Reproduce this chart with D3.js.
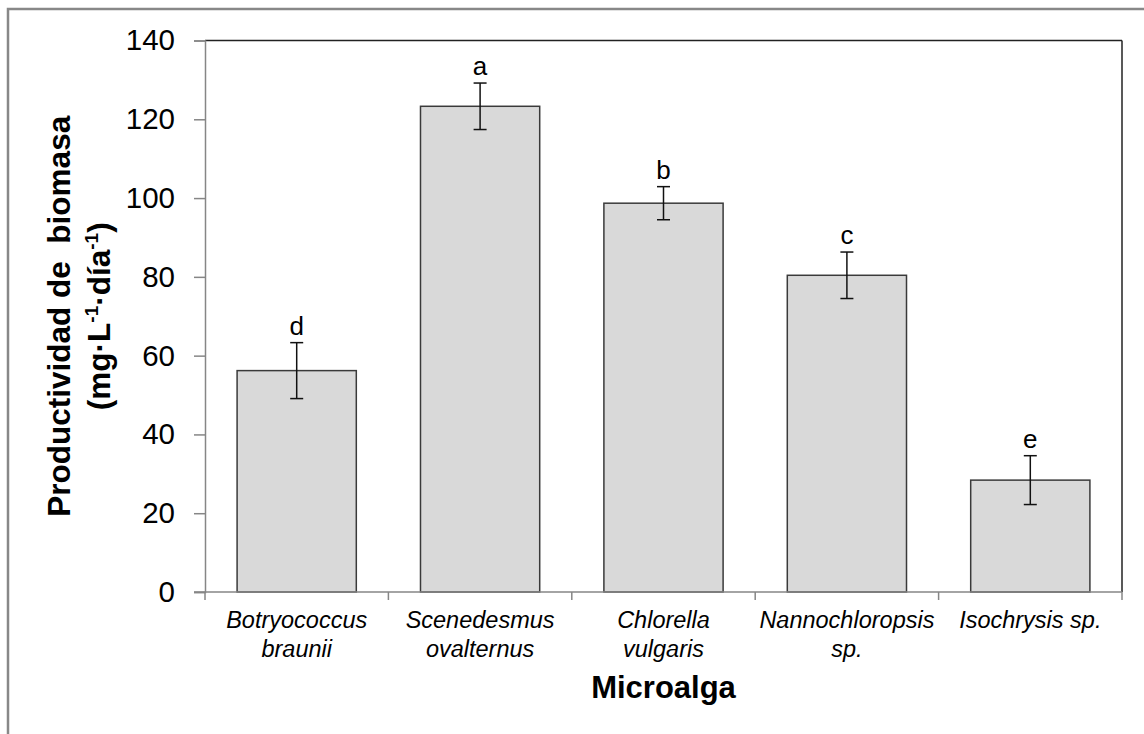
<!DOCTYPE html>
<html>
<head>
<meta charset="utf-8">
<script src="https://cdn.jsdelivr.net/npm/d3@7"></script>
<style>
  html, body { margin: 0; padding: 0; background: #fff; }
  svg { display: block; }
  text { font-family: Arial, "Liberation Sans", Helvetica, sans-serif; fill: #000; }
</style>
</head>
<body>
<svg id="chart" width="1144" height="734"></svg>
<script>
// Biomass productivity per microalga (mean ± SD) with significance groups
const categories = [
  ["Botryococcus", "braunii"],
  ["Scenedesmus", "ovalternus"],
  ["Chlorella", "vulgaris"],
  ["Nannochloropsis", "sp."],
  ["Isochrysis sp."]
];
const means = [56.2, 123.3, 98.7, 80.4, 28.4];
const errors = [7.1, 5.9, 4.2, 5.9, 6.2];
const groups = ["d", "a", "b", "c", "e"];
const yTicks = [0, 20, 40, 60, 80, 100, 120, 140];

const svg = d3.select("#chart");
const plotLeft = 205, plotRight = 1122, plotTop = 40.5, plotBottom = 592;

// outer frame
svg.append("rect")
  .attr("x", 8).attr("y", 9)
  .attr("width", 1144).attr("height", 734)
  .attr("fill", "none").attr("stroke", "#888").attr("stroke-width", 2.5);

const keys = categories.map(c => c.join(" "));
const x = d3.scaleBand().domain(keys).range([plotLeft, plotRight])
  .paddingInner(0.35).paddingOuter(0.175);
const y = d3.scaleLinear().domain([0, 140]).range([plotBottom, plotTop]);

// plot area border (top and right in dark)
svg.append("line").attr("x1", plotLeft).attr("x2", plotRight).attr("y1", plotTop).attr("y2", plotTop)
  .attr("stroke", "#222").attr("stroke-width", 1.5);
svg.append("line").attr("x1", plotRight).attr("x2", plotRight).attr("y1", plotTop).attr("y2", plotBottom)
  .attr("stroke", "#222").attr("stroke-width", 1.5);

// bars
svg.selectAll("rect.bar").data(means).enter().append("rect")
  .attr("class", "bar")
  .attr("x", (d, i) => x(keys[i]))
  .attr("width", x.bandwidth())
  .attr("y", d => y(d))
  .attr("height", d => y(0) - y(d))
  .attr("fill", "#d9d9d9").attr("stroke", "#3a3a3a").attr("stroke-width", 1.5);

// error bars and group letters
const cap = 6.5;
const eg = svg.append("g").attr("stroke", "#111").attr("stroke-width", 1.5);
means.forEach((m, i) => {
  const cx = x(keys[i]) + x.bandwidth() / 2;
  const hi = y(m + errors[i]), lo = y(m - errors[i]);
  eg.append("line").attr("x1", cx).attr("x2", cx).attr("y1", hi).attr("y2", lo);
  eg.append("line").attr("x1", cx - cap).attr("x2", cx + cap).attr("y1", hi).attr("y2", hi);
  eg.append("line").attr("x1", cx - cap).attr("x2", cx + cap).attr("y1", lo).attr("y2", lo);
  svg.append("text")
    .attr("x", cx).attr("y", hi - 8)
    .attr("text-anchor", "middle")
    .attr("font-size", 26)
    .text(groups[i]);
});

// left axis
const yAxis = d3.axisLeft(y).tickValues(yTicks).tickSize(11).tickPadding(19);
const ya = svg.append("g").attr("transform", `translate(${plotLeft},0)`).call(yAxis);
ya.select(".domain").attr("stroke", "#868686").attr("stroke-width", 1.5);
ya.selectAll(".tick line").attr("stroke", "#868686").attr("stroke-width", 1.5);
ya.selectAll(".tick text")
  .attr("font-size", 29.5)
  .attr("font-family", "Arial, 'Liberation Sans', sans-serif")
  .attr("fill", "#000");

// bottom axis with ticks at category boundaries
const bg = svg.append("g");
bg.append("line").attr("x1", plotLeft - 11).attr("x2", plotRight).attr("y1", plotBottom).attr("y2", plotBottom)
  .attr("stroke", "#868686").attr("stroke-width", 1.5);
const edges = keys.map(k => x(k) - x.step() * x.paddingInner() / 2).concat([plotRight]);
edges.forEach(e => {
  bg.append("line").attr("x1", e).attr("x2", e).attr("y1", plotBottom).attr("y2", plotBottom + 8)
    .attr("stroke", "#868686").attr("stroke-width", 1.5);
});

// category labels
categories.forEach((lines, i) => {
  const cx = x(keys[i]) + x.bandwidth() / 2;
  const t = svg.append("text")
    .attr("text-anchor", "middle")
    .attr("font-size", 23.5)
    .attr("font-style", "italic");
  lines.forEach((ln, j) => {
    t.append("tspan").attr("x", cx).attr("y", 628 + j * 28.5).text(ln);
  });
});

// x-axis title
svg.append("text")
  .attr("x", (plotLeft + plotRight) / 2).attr("y", 698)
  .attr("text-anchor", "middle")
  .attr("font-size", 31).attr("font-weight", "bold")
  .text("Microalga");

// y-axis title, two lines
const cy = (plotTop + plotBottom) / 2;
svg.append("text")
  .attr("transform", `translate(70,${cy}) rotate(-90)`)
  .attr("text-anchor", "middle")
  .attr("font-size", 31.5).attr("font-weight", "bold")
  .style("white-space", "pre")
  .text("Productividad de\u00a0 biomasa");

const t2 = svg.append("text")
  .attr("transform", `translate(110,${cy}) rotate(-90)`)
  .attr("text-anchor", "middle")
  .attr("font-size", 31.5).attr("font-weight", "bold");
t2.append("tspan").text("(mg\u00b7L");
t2.append("tspan").attr("font-size", 19).attr("dy", -12).text("-1");
t2.append("tspan").attr("dy", 12).text("\u00b7día");
t2.append("tspan").attr("font-size", 19).attr("dy", -12).text("-1");
t2.append("tspan").attr("dy", 12).text(")");
</script>
</body>
</html>
